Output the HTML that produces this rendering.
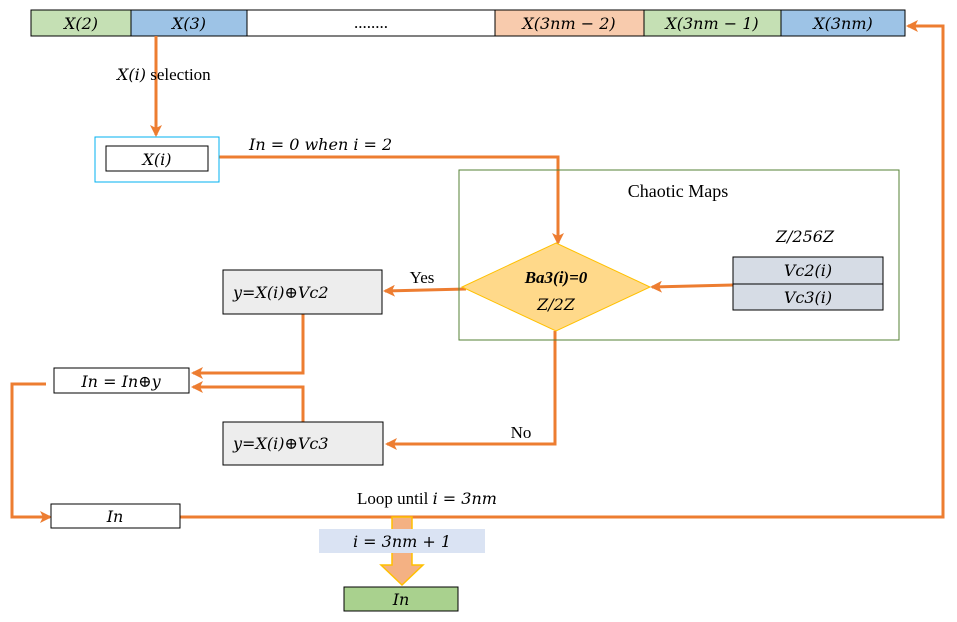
<!DOCTYPE html>
<html><head><meta charset="utf-8"><style>
html,body{margin:0;padding:0;background:#fff;}
svg{display:block;}
text{font-family:"Liberation Serif",serif;fill:#000;}
.m{font-family:"DejaVu Serif",serif;font-style:italic;font-size:16px;}
</style></head><body>
<svg width="957" height="622" viewBox="0 0 957 622" xmlns="http://www.w3.org/2000/svg">
<defs>
<marker id="a" markerWidth="12" markerHeight="12" refX="10" refY="6" orient="auto" markerUnits="userSpaceOnUse">
<path d="M0,0 L12,6 L0,12 L3,6 z" fill="#ed7d31"/>
</marker>
</defs>
<rect x="31" y="10" width="100" height="26" fill="#c5e0b4" stroke="#000"/>
<rect x="131" y="10" width="116" height="26" fill="#9dc3e6" stroke="#000"/>
<rect x="247" y="10" width="248" height="26" fill="#fff" stroke="#000"/>
<rect x="495" y="10" width="149" height="26" fill="#f8cbad" stroke="#000"/>
<rect x="644" y="10" width="137" height="26" fill="#c5e0b4" stroke="#000"/>
<rect x="781" y="10" width="124" height="26" fill="#9dc3e6" stroke="#000"/>
<g text-anchor="middle">
<text x="81" y="29" class="m">X(2)</text>
<text x="189" y="29" class="m">X(3)</text>
<text x="371" y="28" font-size="17">........</text>
<text x="569" y="29" class="m">X(3nm − 2)</text>
<text x="712" y="29" class="m">X(3nm − 1)</text>
<text x="843" y="29" class="m">X(3nm)</text>
</g>
<g stroke="#ed7d31" stroke-width="3" fill="none">
<line x1="156" y1="36" x2="156" y2="135" marker-end="url(#a)"/>
<polyline points="219,157 558,157 558,243" marker-end="url(#a)"/>
<line x1="733" y1="285" x2="652" y2="287" marker-end="url(#a)"/>
<line x1="466" y1="289" x2="385" y2="291" marker-end="url(#a)"/>
<polyline points="303,314 303,373 193,373" marker-end="url(#a)"/>
<polyline points="303,422 303,387 193,387" marker-end="url(#a)"/>
<polyline points="555,331 555,444 387,444" marker-end="url(#a)"/>
<polyline points="46,384 12,384 12,517 50,517" marker-end="url(#a)"/>
<polyline points="180,517 943,517 943,26 908,26" marker-end="url(#a)"/>
</g>
<text x="117" y="80" font-size="17"><tspan class="m">X(i)</tspan> selection</text>
<rect x="95" y="137" width="124" height="45" fill="#fff" stroke="#00b0f0"/>
<rect x="106" y="146" width="102" height="25" fill="#fff" stroke="#000"/>
<text x="157" y="165" text-anchor="middle" class="m">X(i)</text>
<text x="249" y="150" class="m">In = 0 when i = 2</text>
<rect x="459" y="170" width="440" height="170" fill="none" stroke="#548235"/>
<text x="678" y="197" font-size="18" text-anchor="middle">Chaotic Maps</text>
<text x="805" y="242" text-anchor="middle" class="m">Z/256Z</text>
<polygon points="556,243 650,287 556,331 462,287" fill="#ffd98a" stroke="#ffc000"/>
<text x="556" y="283" font-size="17" text-anchor="middle" font-weight="bold" font-style="italic">Ba3(i)=0</text>
<text x="556" y="310" text-anchor="middle" class="m">Z/2Z</text>
<rect x="733" y="257" width="150" height="27" fill="#d6dce5" stroke="#000"/>
<rect x="733" y="284" width="150" height="26" fill="#d6dce5" stroke="#000"/>
<text x="808" y="276" text-anchor="middle" class="m">Vc2(i)</text>
<text x="808" y="303" text-anchor="middle" class="m">Vc3(i)</text>
<text x="422" y="283" font-size="17" text-anchor="middle">Yes</text>
<text x="521" y="438" font-size="17" text-anchor="middle">No</text>
<rect x="223" y="270" width="159" height="44" fill="#ededed" stroke="#000"/>
<text x="233" y="298" class="m">y=X(i)⊕Vc2</text>
<rect x="223" y="422" width="160" height="43" fill="#ededed" stroke="#000"/>
<text x="233" y="449" class="m">y=X(i)⊕Vc3</text>
<rect x="54" y="368" width="135" height="25" fill="#fff" stroke="#000"/>
<text x="121" y="387" text-anchor="middle" class="m">In = In⊕y</text>
<rect x="51" y="504" width="129" height="24" fill="#fff" stroke="#000"/>
<text x="115" y="522" text-anchor="middle" class="m">In</text>
<text x="357" y="504" font-size="17">Loop until <tspan class="m">i = 3nm</tspan></text>
<polygon points="392,517 412,517 412,565 423,565 402,585 381,565 392,565" fill="#f4b183" stroke="#ffc000" stroke-width="1.5"/>
<rect x="319" y="529" width="166" height="24" fill="#dae3f3"/>
<text x="402" y="547" text-anchor="middle" class="m">i = 3nm + 1</text>
<rect x="344" y="587" width="114" height="24" fill="#a9d18e" stroke="#000"/>
<text x="401" y="605" text-anchor="middle" class="m">In</text>
</svg>
</body></html>
